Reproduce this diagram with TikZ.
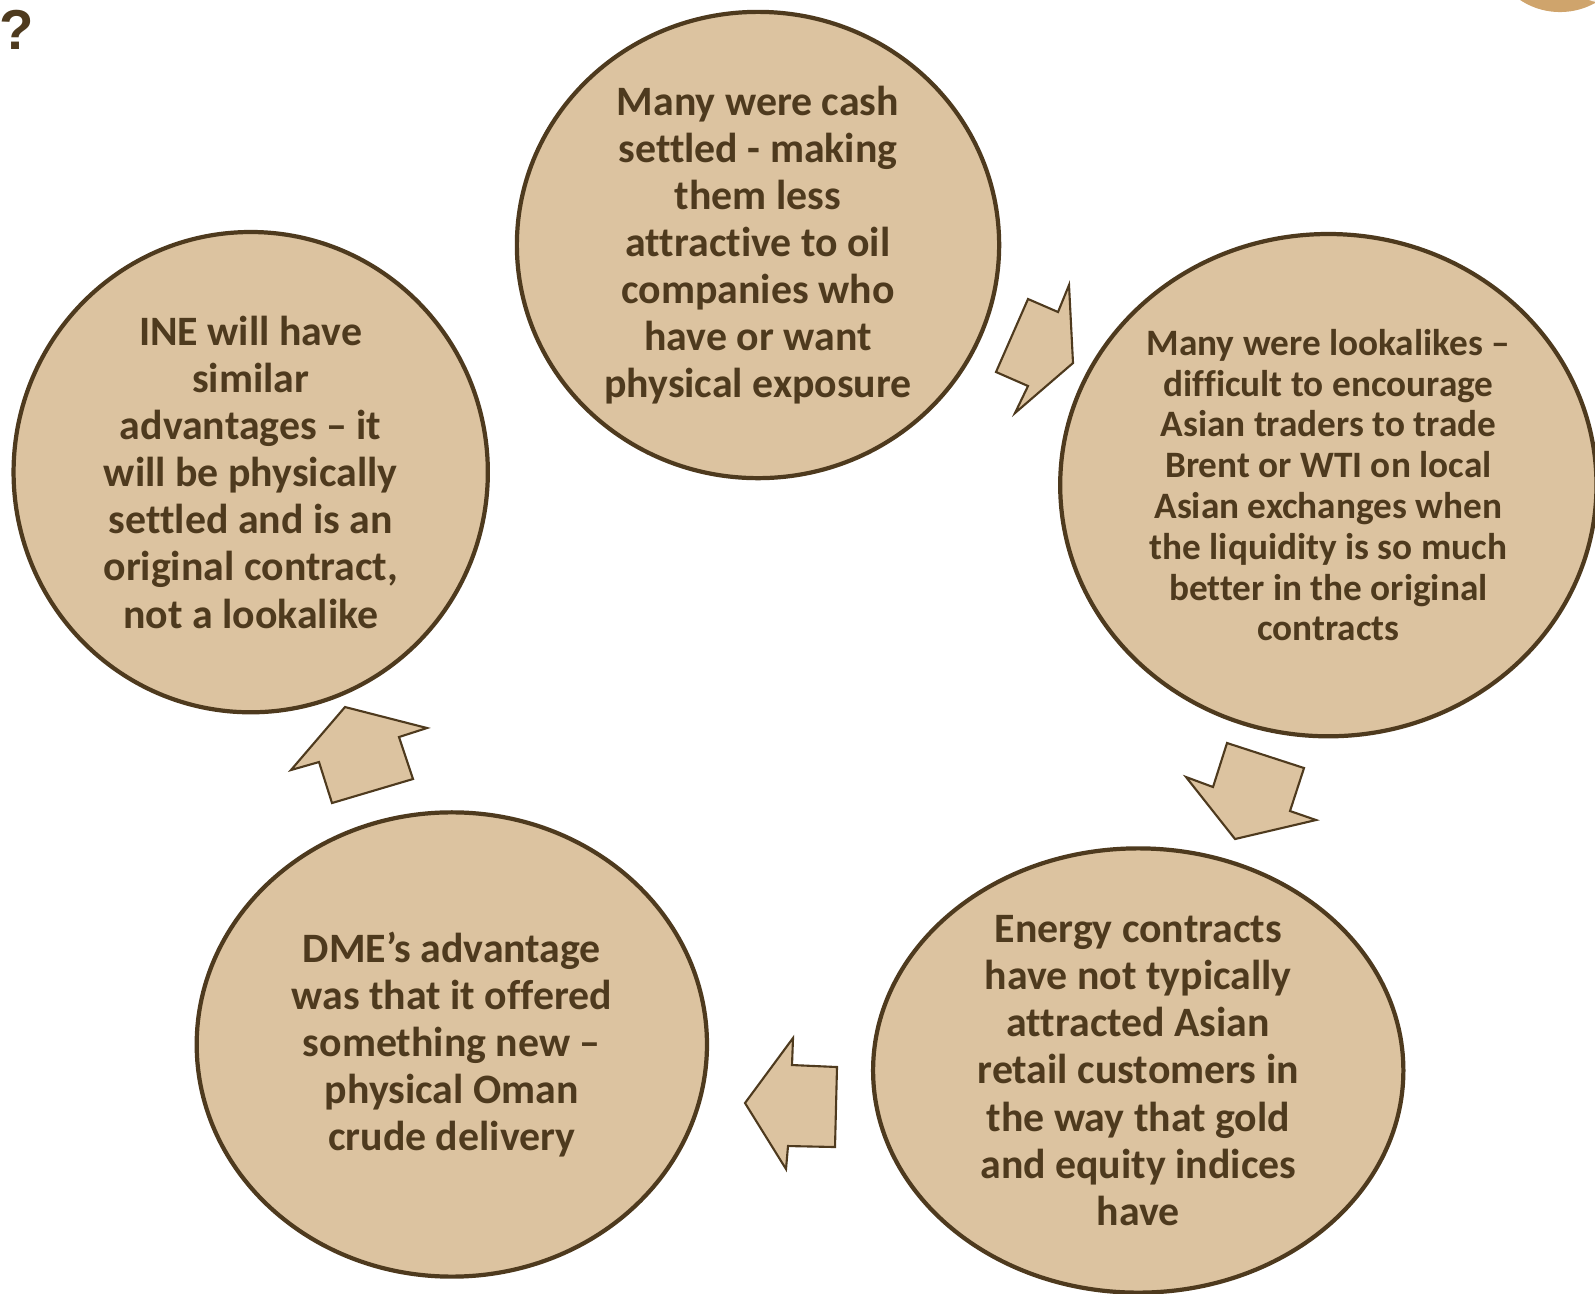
\documentclass[tikz,border=0pt]{standalone}
\usepackage{fontspec}
\setmainfont{Carlito}[Ligatures={TeX,NoCommon}]
\newfontfamily\markfont{Liberation Sans}
\usetikzlibrary{shapes.geometric}

\definecolor{sand}{HTML}{DCC3A0}
\definecolor{umber}{HTML}{4E3A1E}
\definecolor{camel}{HTML}{CFA46C}

\tikzstyle{bubble}=[
   ellipse,
   line width=1.2pt,
   draw=umber,
   fill=sand,
   text=umber,
   align=center,
   inner sep=-5mm,
   font=\bfseries\fontsize{11.9pt}{13.4pt}\selectfont
]
\tikzstyle{blockarrow}=[
   line width=0.6pt,
   draw=umber,
   fill=sand,
   line join=miter
]

\begin{document}
\begin{tikzpicture}[
         x=0.01cm, y=-0.01cm,
         node distance=2cm
      ]
      \useasboundingbox (0,0) rectangle (1595,1293);

      % corner badge and question mark
      \fill[camel] (1560,-60) circle[radius=0.72cm];
      \fill[white!85!camel] (1612,-62) circle[radius=0.66cm];
      \node (mark) at (17,30) [text=umber] {\markfont\bfseries\fontsize{16pt}{18pt}\selectfont ?};

      \node (0) [bubble, minimum width=4.82cm, minimum height=4.66cm] at (758,245) {
         Many were cash
         \\settled - making
         \\them less
         \\attractive to oil
         \\companies who
         \\have or want
         \\physical exposure
      };
      \node (1) [bubble, right of=0, xshift=3.7cm, yshift=-2.4cm,
                 minimum width=5.36cm, minimum height=5.02cm,
                 font=\bfseries\fontsize{10.6pt}{11.6pt}\selectfont] {
         Many were lookalikes –
         \\difficult to encourage
         \\Asian traders to trade
         \\Brent or WTI on local
         \\Asian exchanges when
         \\the liquidity is so much
         \\better in the original
         \\contracts
      };
      \node (2) [bubble, below of=1, xshift=-1.9cm, yshift=-3.85cm,
                 minimum width=5.30cm, minimum height=4.44cm] {
         Energy contracts
         \\have not typically
         \\attracted Asian
         \\retail customers in
         \\the way that gold
         \\and equity indices
         \\have
      };
      \node (3) [bubble, left of=2, xshift=-4.86cm, yshift=0.26cm,
                 minimum width=5.10cm, minimum height=4.64cm] {
         DME’s advantage
         \\was that it offered
         \\something new –
         \\physical Oman
         \\crude delivery
      };
      \node (4) [bubble, above of=3, xshift=-2.01cm, yshift=3.72cm,
                 minimum width=4.74cm, minimum height=4.80cm] {
         INE will have
         \\similar
         \\advantages – it
         \\will be physically
         \\settled and is an
         \\original contract,
         \\not a lookalike
      };

      % block arrows between the bubbles
      \draw[blockarrow] (1028,299) -- (1058,312) -- (1069,285) -- (1073,363)
         -- (1015,413) -- (1028,386) -- (996,372) -- cycle;
      \draw[blockarrow] (1227,743) -- (1304,768) -- (1290,811) -- (1316,820)
         -- (1235,839) -- (1186,777) -- (1213,787) -- cycle;
      \draw[blockarrow] (837,1067) -- (835,1147) -- (788,1146) -- (786,1169)
         -- (745,1103) -- (793,1038) -- (792,1065) -- cycle;
      \draw[blockarrow] (332,803) -- (413,779) -- (399,737) -- (427,728)
         -- (345,707) -- (291,770) -- (319,762) -- cycle;

   \end{tikzpicture}
\end{document}
